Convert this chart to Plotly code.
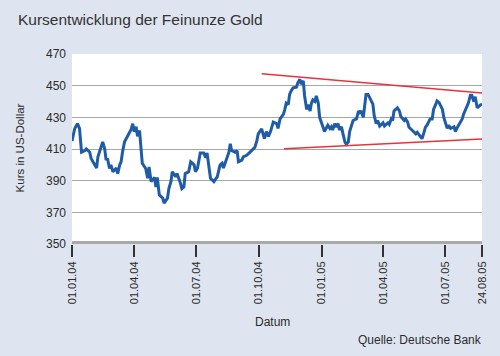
import plotly.graph_objects as go

# ---- data ----
dates = [
    "2004-01-01", "2004-01-05", "2004-01-09", "2004-01-12", "2004-01-15", "2004-01-20",
    "2004-01-22", "2004-01-27", "2004-01-29", "2004-02-03", "2004-02-06", "2004-02-08",
    "2004-02-13", "2004-02-15", "2004-02-18", "2004-02-20", "2004-02-22", "2004-02-25",
    "2004-02-27", "2004-03-01", "2004-03-06", "2004-03-08", "2004-03-11", "2004-03-13",
    "2004-03-15", "2004-03-18", "2004-03-23", "2004-03-28", "2004-03-30", "2004-04-01",
    "2004-04-04", "2004-04-06", "2004-04-09", "2004-04-11", "2004-04-13", "2004-04-18",
    "2004-04-21", "2004-04-23", "2004-04-26", "2004-05-01", "2004-05-03", "2004-05-05",
    "2004-05-08", "2004-05-13", "2004-05-15", "2004-05-20", "2004-05-22", "2004-05-25",
    "2004-05-27", "2004-06-01", "2004-06-03", "2004-06-08", "2004-06-10", "2004-06-13",
    "2004-06-15", "2004-06-20", "2004-06-23", "2004-06-28", "2004-06-30", "2004-07-03",
    "2004-07-07", "2004-07-12", "2004-07-15", "2004-07-17", "2004-07-19", "2004-07-22",
    "2004-07-27", "2004-08-01", "2004-08-05", "2004-08-08", "2004-08-10", "2004-08-15",
    "2004-08-18", "2004-08-20", "2004-08-22", "2004-08-27", "2004-08-30", "2004-09-01",
    "2004-09-06", "2004-09-08", "2004-09-13", "2004-09-18", "2004-09-20", "2004-09-25",
    "2004-09-28", "2004-09-30", "2004-10-05", "2004-10-07", "2004-10-09", "2004-10-12",
    "2004-10-15", "2004-10-18", "2004-10-22", "2004-10-27", "2004-10-29", "2004-11-01",
    "2004-11-06", "2004-11-08", "2004-11-10", "2004-11-13", "2004-11-15", "2004-11-17",
    "2004-11-20", "2004-11-25", "2004-11-27", "2004-11-30", "2004-12-02", "2004-12-05",
    "2004-12-07", "2004-12-10", "2004-12-12", "2004-12-15", "2004-12-17", "2004-12-19",
    "2004-12-22", "2004-12-24", "2004-12-27", "2004-12-29", "2004-12-31", "2005-01-03",
    "2005-01-05", "2005-01-08", "2005-01-10", "2005-01-13", "2005-01-15", "2005-01-17",
    "2005-01-20", "2005-01-22", "2005-01-25", "2005-01-27", "2005-01-30", "2005-02-01",
    "2005-02-04", "2005-02-06", "2005-02-09", "2005-02-11", "2005-02-14", "2005-02-16",
    "2005-02-21", "2005-02-24", "2005-02-26", "2005-02-28", "2005-03-03", "2005-03-05",
    "2005-03-07", "2005-03-10", "2005-03-13", "2005-03-17", "2005-03-19", "2005-03-22",
    "2005-03-24", "2005-03-27", "2005-04-01", "2005-04-03", "2005-04-08", "2005-04-10",
    "2005-04-13", "2005-04-15", "2005-04-17", "2005-04-22", "2005-04-25", "2005-04-27",
    "2005-05-02", "2005-05-04", "2005-05-07", "2005-05-09", "2005-05-14", "2005-05-19",
    "2005-05-21", "2005-05-26", "2005-05-28", "2005-05-31", "2005-06-02", "2005-06-05",
    "2005-06-09", "2005-06-12", "2005-06-14", "2005-06-17", "2005-06-19", "2005-06-22",
    "2005-06-24", "2005-06-27", "2005-06-29", "2005-07-02", "2005-07-04", "2005-07-06",
    "2005-07-09", "2005-07-14", "2005-07-16", "2005-07-18", "2005-07-21", "2005-07-26",
    "2005-07-28", "2005-07-31", "2005-08-02", "2005-08-04", "2005-08-07", "2005-08-09",
    "2005-08-12", "2005-08-14", "2005-08-17", "2005-08-19", "2005-08-22", "2005-08-24",
]
prices = [
    415, 423, 426, 423, 408, 409,
    410, 408, 404, 400, 398, 405,
    412, 414.5, 410, 403, 404, 397.7,
    400, 395.6, 398, 394.5, 400, 402,
    408, 414.5, 418.5, 422.7, 426, 421,
    424, 418, 421.6, 410, 401, 397.7,
    391.5, 398.7, 389.4, 392, 386, 392,
    381, 379, 375.8, 379, 385, 389.4,
    395.6, 392.5, 394.5, 388.3, 385, 386,
    394.5, 395.6, 401.9, 400, 395.6, 398,
    407.5, 407.5, 404.5, 407.5, 402, 391.5,
    389.4, 392.5, 399.8, 401, 398, 405,
    408, 413.3, 409, 408, 409, 402,
    403, 405, 406, 408, 409, 411,
    415.3, 419.5, 422.7, 419, 416.5, 421,
    418, 421, 427, 426, 423, 429,
    432, 435, 439, 438, 444.5, 446.5,
    448.6, 449, 451.8, 454, 451, 453,
    443.5, 435, 438, 434, 439, 441,
    440, 443.5, 439, 430, 428, 423.8,
    421, 423, 425, 423, 424, 422,
    426, 424, 426, 422, 424, 420,
    414.4, 413, 414.4, 421, 425, 428,
    429, 434, 433, 434, 430, 436,
    444.5, 444.5, 441.4, 438.3, 431, 426,
    428, 424.5, 426.5, 424.5, 426.5, 425.5,
    429, 428, 434, 436, 434, 430.5,
    428, 429, 427, 423.7, 421.7, 419.6,
    420.5, 417.5, 416.5, 420.5, 423.7, 425.5,
    429, 429, 435, 438, 440.4, 439.4,
    437.5, 435, 430, 426, 423, 425,
    423, 424, 421, 423, 425, 429,
    432, 435, 436, 439, 444, 444,
    440, 443, 436, 437, 438, 438,
]

upper_trend_dates = ["2004-10-05", "2005-08-24"]
upper_trend_vals = [457.5, 445.4]
lower_trend_dates = ["2004-11-07", "2005-08-24"]
lower_trend_vals = [410.2, 416.3]

tick_dates = ["2004-01-01", "2004-04-01", "2004-07-01", "2004-10-01",
              "2005-01-01", "2005-04-01", "2005-07-01", "2005-08-24"]
tick_labels = ["01.01.04", "01.04.04", "01.07.04", "01.10.04",
               "01.01.05", "01.04.05", "01.07.05", "24.08.05"]
y_ticks = [350, 370, 390, 410, 430, 450, 470]

FONT = "Liberation Sans, Arial, sans-serif"
TXT = "#2b2b2b"
BG = "#dee5f0"

fig = go.Figure()
fig.add_trace(go.Scatter(x=dates, y=prices, mode="lines",
                         line=dict(color="#1f5ca6", width=3),
                         hoverinfo="skip", showlegend=False))
fig.add_trace(go.Scatter(x=upper_trend_dates, y=upper_trend_vals, mode="lines",
                         line=dict(color="#e8323c", width=1.4),
                         hoverinfo="skip", showlegend=False))
fig.add_trace(go.Scatter(x=lower_trend_dates, y=lower_trend_vals, mode="lines",
                         line=dict(color="#e8323c", width=1.4),
                         hoverinfo="skip", showlegend=False))

# thick grey base bar at 350
fig.add_shape(type="line", xref="paper", x0=0, x1=1, yref="y", y0=350, y1=350,
              line=dict(color="#a9a9a9", width=6), layer="above")

fig.update_layout(
    width=500, height=356,
    margin=dict(l=72, r=15, t=54, b=112),
    paper_bgcolor=BG,
    plot_bgcolor="#ffffff",
    font=dict(family=FONT, color=TXT, size=12),
    xaxis=dict(
        range=["2004-01-01", "2005-08-24"],
        tickvals=tick_dates, ticktext=tick_labels,
        tickangle=-90, tickfont=dict(size=11, color=TXT),
        ticks="outside", ticklen=12, tickwidth=2, tickcolor="#333333",
        showgrid=False, zeroline=False, showline=False,
        fixedrange=True,
    ),
    yaxis=dict(
        range=[350, 470], tickvals=y_ticks,
        tickfont=dict(size=12, color=TXT),
        showgrid=True, gridcolor="#a6a6a6", gridwidth=1,
        zeroline=False, showline=False, ticks="", ticklabelstandoff=5,
        fixedrange=True,
    ),
    annotations=[
        dict(text="Kursentwicklung der Feinunze Gold", xref="paper", yref="paper",
             x=-56/413, y=1 + 35/190, xanchor="left", yanchor="middle",
             showarrow=False, font=dict(size=15.5, color="#333333")),
        dict(text="Kurs in US-Dollar", xref="paper", yref="paper",
             x=-52/413, y=(244-148)/190, xanchor="center", yanchor="middle",
             textangle=-90, showarrow=False, font=dict(size=11.5, color=TXT)),
        dict(text="Datum", xref="paper", yref="paper",
             x=(274-72)/413, y=-(322-244)/190, xanchor="center", yanchor="middle",
             showarrow=False, font=dict(size=12, color=TXT)),
        dict(text="Quelle: Deutsche Bank", xref="paper", yref="paper",
             x=(487-72)/413, y=-(340-244)/190, xanchor="right", yanchor="middle",
             showarrow=False, font=dict(size=12, color=TXT)),
    ],
)

fig.write_html(
    "out.html",
    config={"displayModeBar": False, "staticPlot": True},
    post_script=(
        "document.documentElement.style.margin='0';"
        "document.body.style.margin='0';"
        "document.body.style.padding='0';"
        "document.body.style.overflow='hidden';"
        "document.body.style.background='" + BG + "';"
    ),
)
